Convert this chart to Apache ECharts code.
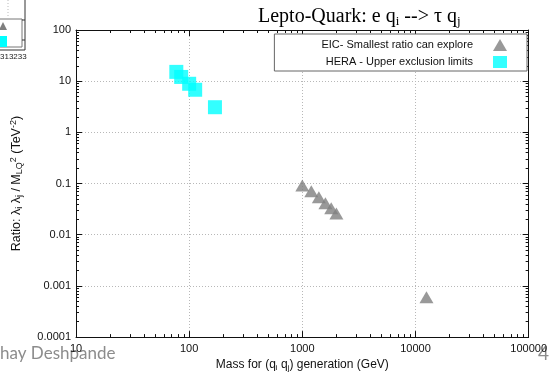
<!DOCTYPE html>
<html>
<head>
<meta charset="utf-8">
<script src="https://cdn.jsdelivr.net/npm/echarts@6/dist/echarts.min.js"></script>
<style>
  html, body { margin: 0; padding: 0; background: #fff; }
  #chart { width: 550px; height: 377px; }
</style>
</head>
<body>
<div id="chart"></div>
<script>
// EIC reach (grey triangles) and HERA limits (cyan squares)
const eicMass = [1000, 1200, 1400, 1600, 1800, 2000, 12500]
const eicRatio = [0.092, 0.071, 0.054, 0.041, 0.033, 0.026, 0.0006]
const heraMass = [77, 85, 100, 113, 169]
const heraRatio = [15.2, 12.1, 8.9, 6.8, 3.1]

const xTickLabels = ['10', '100', '1000', '10000', '100000']
const yTickLabels = ['0.0001', '0.001', '0.01', '0.1', '1', '10', '100']

const X_MIN = 10, X_MAX = 100000
const Y_MIN = 0.0001, Y_MAX = 100

// minor ticks at 2..9 of each decade, expressed in log10 space for the overlay axes
function minorLogTicks(lo, hi) {
  const out = []
  for (let e = lo; e < hi; e++) {
    for (let k = 2; k <= 9; k++) out.push(e + Math.log10(k))
  }
  return out
}
const xMinor = minorLogTicks(1, 5)
const yMinor = minorLogTicks(-4, 2)

const labelFont = 'Liberation Sans, Arial, sans-serif'
const serifFont = 'Liberation Serif, Times New Roman, serif'
const axisColor = '#111'

function zip(a, b) {
  return a.map((v, i) => [v, b[i]])
}

const chart = echarts.init(document.getElementById('chart'))

function logAxis(pos, min, max, extra) {
  return Object.assign({
    type: 'log',
    logBase: 10,
    position: pos,
    min,
    max,
    axisLine: { show: true, onZero: false, lineStyle: { color: axisColor, width: 1 } },
    axisTick: { show: true, inside: true, length: 6, lineStyle: { color: axisColor } },
    splitLine: { show: false },
    axisLabel: { show: false }
  }, extra || {})
}

function minorAxis(pos, min, max, ticks) {
  return {
    type: 'value',
    position: pos,
    min,
    max,
    axisLine: { show: false, onZero: false },
    axisTick: { show: true, inside: true, length: 3, customValues: ticks, lineStyle: { color: axisColor } },
    axisLabel: { show: false },
    splitLine: { show: false }
  }
}

const gridSplit = { show: true, lineStyle: { color: '#b8b8b8', type: [1, 2], width: 1 } }

chart.setOption({
  animation: false,
  backgroundColor: '#fff',
  title: {
    left: 253,
    top: 0,
    text: '{a|Lepto-Quark: e q}{s|i}{a| --> \u03c4 q}{s|j}',
    textStyle: {
      fontWeight: 'normal',
      rich: {
        a: { fontFamily: serifFont, fontSize: 20, fontWeight: 'normal', color: '#000' },
        s: { fontFamily: serifFont, fontSize: 13, fontWeight: 'normal', color: '#000', padding: [10, 0, 0, 0] }
      }
    }
  },
  grid: { left: 76, right: 17, top: 30, bottom: 38 },
  legend: {
    right: 23,
    top: 34,
    orient: 'vertical',
    align: 'right',
    padding: [5, 20, 3, 47],
    itemWidth: 14,
    itemHeight: 12,
    itemGap: 5,
    borderColor: '#666',
    borderWidth: 1,
    backgroundColor: '#fff',
    selectedMode: false,
    textStyle: { fontFamily: labelFont, fontSize: 11, color: '#111', padding: [0, 15, 0, 0] },
    data: [
      { name: 'EIC- Smallest ratio can explore', icon: 'triangle' },
      { name: 'HERA - Upper exclusion limits', icon: 'rect' }
    ]
  },
  xAxis: [
    logAxis('bottom', X_MIN, X_MAX, {
      splitLine: gridSplit,
      axisLabel: {
        show: true,
        margin: 6,
        color: '#111',
        fontFamily: labelFont,
        fontSize: 11,
        formatter: (v) => xTickLabels[Math.round(Math.log10(v)) - 1]
      },
      name: '{a|Mass for (q}{s|i}{a| q}{s|j}{a|) generation (GeV)}',
      nameLocation: 'middle',
      nameGap: 18,
      nameTextStyle: {
        rich: {
          a: { fontFamily: labelFont, fontSize: 12, color: '#111' },
          s: { fontFamily: labelFont, fontSize: 8, color: '#111', padding: [6, 0, 0, 0] }
        }
      }
    }),
    logAxis('top', X_MIN, X_MAX),
    minorAxis('bottom', 1, 5, xMinor),
    minorAxis('top', 1, 5, xMinor)
  ],
  yAxis: [
    logAxis('left', Y_MIN, Y_MAX, {
      splitLine: gridSplit,
      axisLabel: {
        show: true,
        margin: 5,
        color: '#111',
        fontFamily: labelFont,
        fontSize: 11,
        formatter: (v) => yTickLabels[Math.round(Math.log10(v)) + 4]
      },
      name: '{a|Ratio: \u03bb}{s|i}{a| \u03bb}{s|j}{a| / M}{s|LQ}{p|2}{a| (TeV}{p|-2}{a|)}',
      nameLocation: 'middle',
      nameGap: 51,
      nameTextStyle: {
        rich: {
          a: { fontFamily: labelFont, fontSize: 12.5, color: '#111' },
          s: { fontFamily: labelFont, fontSize: 9, color: '#111', padding: [6, 0, 0, 0] },
          p: { fontFamily: labelFont, fontSize: 9, color: '#111', padding: [0, 0, 7, 0] }
        }
      }
    }),
    logAxis('right', Y_MIN, Y_MAX),
    minorAxis('left', -4, 2, yMinor),
    minorAxis('right', -4, 2, yMinor)
  ],
  graphic: [
    // remnants of the neighbouring slide content
    { type: 'text', left: 0, top: 345, style: { text: 'hay Deshpande', fontFamily: 'Lato, sans-serif', fontSize: 17, fill: '#8c8c8c' } },
    { type: 'text', left: 538, top: 344, style: { text: '4', fontFamily: 'Lato, sans-serif', fontSize: 19, fill: '#8c8c8c' } },
    { type: 'text', left: 0, top: 53, style: { text: '313233', fontFamily: labelFont, fontSize: 8, fill: '#222' } },
    { type: 'polyline', shape: { points: [[0, 50], [25, 50], [25, 0]] }, style: { stroke: '#333', fill: null, lineWidth: 1 } },
    { type: 'polyline', shape: { points: [[0, 19], [22, 19], [22, 47], [0, 47]] }, style: { stroke: '#777', fill: null, lineWidth: 1 } },
    { type: 'line', shape: { x1: 25, y1: 20, x2: 22, y2: 20 }, style: { stroke: '#333' } },
    { type: 'line', shape: { x1: 25, y1: 40, x2: 22, y2: 40 }, style: { stroke: '#333' } },
    { type: 'line', shape: { x1: 8, y1: 0, x2: 8, y2: 18 }, style: { stroke: '#bbb', lineDash: [1, 2] } },
    { type: 'polygon', shape: { points: [[-1, 30], [3, 22], [7, 30]] }, style: { fill: '#7f7f7f' } },
    { type: 'rect', shape: { x: 0, y: 36, width: 7, height: 11 }, style: { fill: '#00ffff' } }
  ],
  series: [
    {
      name: 'EIC- Smallest ratio can explore',
      type: 'scatter',
      xAxisIndex: 0,
      yAxisIndex: 0,
      symbol: 'triangle',
      symbolSize: [14, 12],
      itemStyle: { color: '#7f7f7f' },
      data: zip(eicMass, eicRatio)
    },
    {
      name: 'HERA - Upper exclusion limits',
      type: 'scatter',
      xAxisIndex: 0,
      yAxisIndex: 0,
      symbol: 'rect',
      symbolSize: 14,
      itemStyle: { color: '#00ffff' },
      data: zip(heraMass, heraRatio)
    }
  ]
})
</script>
</body>
</html>
